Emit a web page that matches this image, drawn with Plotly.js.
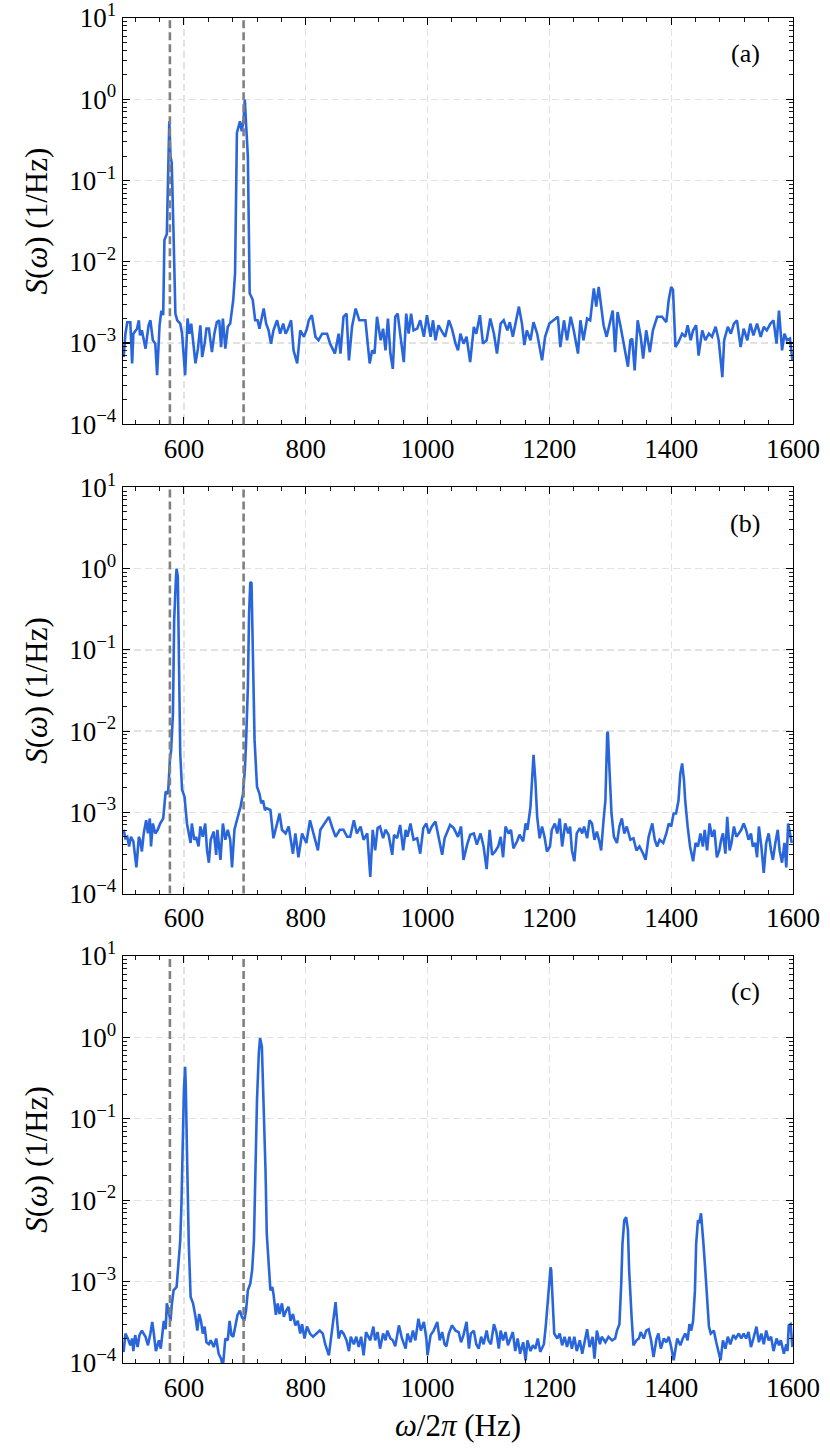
<!DOCTYPE html>
<html>
<head>
<meta charset="utf-8">
<script src="https://cdn.plot.ly/plotly-3.0.1.min.js"></script>
<style>
html,body{margin:0;padding:0;background:#fff;}
#chart{width:830px;height:1453px;}
</style>
</head>
<body>
<div id="chart"></div>
<script>
// ---------- data (frequency in Hz, S in 1/Hz) ----------
const fa = [501,504,507,512,515,517,523,526,528,531,537,542,545,549,553,556,560,563,566,568,572,575,576,578,580,583,586,589,594,597,600,602,606,609,612,616,619,623,627,630,634,637,641,646,650,654,658,661,664,668,672,676,681,684,687,692,695,698,700,702,705,708,713,717,721,724,731,735,739,743,747,753,758,763,767,770,776,780,786,791,797,802,805,810,816,821,827,835,840,848,854,857,862,867,871,876,882,888,895,898,905,909,913,917,923,927,931,935,939,943,947,951,955,961,965,969,973,977,983,988,994,999,1005,1009,1013,1018,1024,1029,1035,1040,1046,1050,1054,1059,1064,1070,1076,1080,1086,1091,1097,1103,1109,1114,1120,1125,1131,1135,1140,1146,1150,1155,1159,1163,1169,1174,1180,1188,1193,1200,1207,1214,1218,1224,1229,1235,1240,1247,1251,1256,1262,1267,1273,1277,1281,1285,1289,1294,1299,1304,1308,1312,1317,1321,1325,1329,1333,1336,1340,1345,1350,1354,1359,1365,1370,1377,1385,1392,1396,1400,1403,1407,1412,1418,1423,1427,1432,1436,1441,1445,1451,1456,1462,1467,1473,1478,1484,1487,1493,1498,1503,1508,1514,1519,1525,1530,1535,1541,1547,1552,1557,1563,1568,1573,1577,1582,1586,1590,1595,1599];
const Sa = [0.67e-3,1.3e-3,1.8e-3,1.8e-3,0.56e-3,1.3e-3,1.5e-3,1.9e-3,1.24e-3,1.43e-3,0.85e-3,1.65e-3,1.9e-3,1.08e-3,0.98e-3,0.40e-3,1.65e-3,2.5e-3,2.2e-3,18.5e-3,22e-3,510e-3,535e-3,198e-3,165e-3,22e-3,2.3e-3,1.9e-3,1.73e-3,1.3e-3,0.61e-3,0.40e-3,2.0e-3,1.3e-3,1.73e-3,0.81e-3,0.56e-3,0.85e-3,1.65e-3,0.67e-3,0.98e-3,1.5e-3,1.5e-3,0.77e-3,1.3e-3,1.8e-3,1.9e-3,0.89e-3,2.0e-3,0.85e-3,1.58e-3,1.73e-3,3.4e-3,7.2e-3,384e-3,535e-3,403e-3,561e-3,990e-3,510e-3,198e-3,4.1e-3,3.4e-3,1.9e-3,1.9e-3,1.5e-3,2.65e-3,1.73e-3,1.43e-3,0.98e-3,1.43e-3,1.9e-3,1.3e-3,1.73e-3,1.3e-3,1.43e-3,1.9e-3,0.81e-3,0.56e-3,1.43e-3,1.19e-3,1.5e-3,1.9e-3,2.2e-3,1.19e-3,1.08e-3,1.3e-3,1.3e-3,0.98e-3,0.74e-3,1.3e-3,0.74e-3,2.1e-3,2.3e-3,0.61e-3,1.58e-3,2.65e-3,1.9e-3,1.9e-3,1.9e-3,0.56e-3,0.81e-3,0.74e-3,2.1e-3,1.08e-3,1.5e-3,0.81e-3,2.0e-3,0.74e-3,0.48e-3,2.1e-3,2.3e-3,1.3e-3,0.58e-3,2.3e-3,1.3e-3,2.3e-3,1.43e-3,1.5e-3,1.9e-3,1.19e-3,2.2e-3,1.19e-3,1.9e-3,1.08e-3,1.65e-3,1.37e-3,1.19e-3,1.9e-3,1.5e-3,0.98e-3,0.81e-3,1.3e-3,0.98e-3,1.19e-3,0.58e-3,1.58e-3,1.3e-3,2.2e-3,0.98e-3,1.08e-3,2.0e-3,1.3e-3,0.74e-3,1.73e-3,1.9e-3,1.43e-3,1.8e-3,1.19e-3,1.9e-3,2.8e-3,1.73e-3,0.94e-3,1.43e-3,1.08e-3,1.8e-3,1.3e-3,0.61e-3,1.19e-3,1.73e-3,1.9e-3,2.1e-3,0.89e-3,1.9e-3,1.08e-3,2.1e-3,1.43e-3,0.74e-3,1.9e-3,1.08e-3,2.0e-3,1.9e-3,4.7e-3,2.8e-3,4.9e-3,2.8e-3,1.65e-3,1.19e-3,1.73e-3,2.5e-3,0.77e-3,2.4e-3,1.58e-3,1.08e-3,0.74e-3,0.51e-3,1.08e-3,1.13e-3,0.46e-3,1.9e-3,1.19e-3,0.64e-3,1.43e-3,0.77e-3,1.43e-3,2.1e-3,2.1e-3,1.8e-3,3.4e-3,4.9e-3,4.5e-3,0.89e-3,1.03e-3,1.3e-3,1.19e-3,1.65e-3,1.08e-3,1.43e-3,1.65e-3,0.70e-3,1.43e-3,1.08e-3,1.3e-3,1.19e-3,1.58e-3,1.08e-3,0.38e-3,1.08e-3,1.58e-3,1.3e-3,1.73e-3,1.9e-3,0.89e-3,1.5e-3,1.08e-3,1.73e-3,1.24e-3,1.73e-3,1.19e-3,1.58e-3,1.43e-3,1.73e-3,1.9e-3,0.98e-3,2.5e-3,0.81e-3,1.3e-3,1.08e-3,1.13e-3,0.61e-3];

const fb = [501,504,507,510,513,517,522,526,528,531,534,538,541,544,546,549,553,557,561,566,570,574,577,579,582,584,587,588,590,592,594,597,601,605,608,611,613,617,620,624,627,631,635,638,641,644,649,653,655,660,664,668,672,676,679,683,687,693,697,700,702,705,707,709,711,713,716,720,724,727,730,733,736,742,747,753,757,761,767,772,779,783,788,794,801,807,813,820,824,831,838,843,849,856,862,868,873,879,884,890,895,901,906,910,914,918,922,927,931,936,942,945,950,955,960,964,967,972,977,983,988,993,998,1002,1007,1013,1017,1024,1028,1033,1037,1043,1050,1055,1059,1065,1070,1076,1081,1087,1092,1097,1102,1106,1111,1116,1120,1124,1128,1133,1137,1141,1147,1151,1157,1161,1164,1169,1172,1174,1177,1180,1184,1188,1192,1196,1201,1204,1209,1213,1217,1221,1226,1231,1234,1237,1241,1245,1250,1254,1257,1262,1266,1270,1274,1278,1282,1285,1289,1292,1295,1296,1299,1302,1306,1311,1315,1319,1323,1327,1333,1338,1343,1348,1354,1358,1363,1369,1373,1377,1381,1387,1392,1396,1400,1404,1408,1412,1415,1418,1421,1423,1427,1431,1436,1440,1444,1448,1452,1455,1459,1463,1467,1471,1475,1479,1482,1485,1489,1492,1496,1499,1503,1507,1511,1515,1519,1523,1527,1531,1534,1538,1541,1544,1548,1552,1556,1560,1564,1567,1571,1575,1578,1582,1586,1589,1592,1595,1598];
const Sb = [0.61e-3,0.48e-3,0.50e-3,0.38e-3,0.50e-3,0.44e-3,0.21e-3,0.50e-3,0.46e-3,0.33e-3,0.55e-3,0.80e-3,0.55e-3,0.84e-3,0.38e-3,0.73e-3,0.55e-3,0.61e-3,0.73e-3,0.84e-3,1.8e-3,1.7e-3,4.4e-3,5.8e-3,16.5e-3,232e-3,790e-3,1000e-3,790e-3,90e-3,5.3e-3,1.9e-3,1.56e-3,0.73e-3,0.55e-3,0.42e-3,0.73e-3,0.46e-3,0.50e-3,0.38e-3,0.67e-3,0.50e-3,0.73e-3,0.34e-3,0.24e-3,0.46e-3,0.58e-3,0.30e-3,0.61e-3,0.26e-3,0.73e-3,0.46e-3,0.61e-3,0.46e-3,0.21e-3,0.61e-3,0.80e-3,1.17e-3,1.7e-3,3.3e-3,7.0e-3,35e-3,280e-3,685e-3,660e-3,109e-3,7.8e-3,2.07e-3,1.7e-3,1.29e-3,1.4e-3,1.07e-3,1.12e-3,1.07e-3,0.48e-3,0.73e-3,0.97e-3,0.61e-3,0.55e-3,0.67e-3,0.31e-3,0.55e-3,0.28e-3,0.55e-3,0.42e-3,0.80e-3,0.55e-3,0.34e-3,0.61e-3,0.73e-3,0.88e-3,0.67e-3,0.50e-3,0.61e-3,0.61e-3,0.50e-3,0.50e-3,0.80e-3,0.55e-3,0.67e-3,0.46e-3,0.55e-3,0.16e-3,0.61e-3,0.34e-3,0.64e-3,0.67e-3,0.48e-3,0.61e-3,0.53e-3,0.30e-3,0.53e-3,0.48e-3,0.70e-3,0.34e-3,0.61e-3,0.50e-3,0.73e-3,0.46e-3,0.48e-3,0.31e-3,0.64e-3,0.73e-3,0.55e-3,0.67e-3,0.77e-3,0.55e-3,0.30e-3,0.48e-3,0.61e-3,0.70e-3,0.64e-3,0.50e-3,0.67e-3,0.26e-3,0.40e-3,0.53e-3,0.55e-3,0.40e-3,0.55e-3,0.38e-3,0.20e-3,0.61e-3,0.30e-3,0.33e-3,0.38e-3,0.50e-3,0.28e-3,0.67e-3,0.55e-3,0.61e-3,0.36e-3,0.44e-3,0.53e-3,0.44e-3,0.73e-3,0.61e-3,1.17e-3,2.5e-3,5.1e-3,2.5e-3,0.88e-3,0.48e-3,0.67e-3,0.50e-3,0.33e-3,0.38e-3,0.61e-3,0.73e-3,0.55e-3,0.84e-3,0.38e-3,0.73e-3,0.55e-3,0.67e-3,0.34e-3,0.25e-3,0.55e-3,0.64e-3,0.55e-3,0.67e-3,0.48e-3,0.80e-3,0.73e-3,0.46e-3,0.58e-3,0.44e-3,0.34e-3,0.80e-3,1.4e-3,9.4e-3,9.8e-3,3.0e-3,0.97e-3,0.50e-3,0.42e-3,0.67e-3,0.84e-3,0.55e-3,0.67e-3,0.46e-3,0.48e-3,0.34e-3,0.38e-3,0.31e-3,0.26e-3,0.50e-3,0.73e-3,0.46e-3,0.38e-3,0.46e-3,0.42e-3,0.55e-3,0.73e-3,0.67e-3,0.97e-3,0.97e-3,1.4e-3,3.0e-3,4.0e-3,2.5e-3,1.4e-3,0.67e-3,0.38e-3,0.25e-3,0.42e-3,0.38e-3,0.55e-3,0.38e-3,0.61e-3,0.34e-3,0.73e-3,0.50e-3,0.61e-3,0.28e-3,0.34e-3,0.46e-3,0.55e-3,0.31e-3,0.88e-3,0.34e-3,0.42e-3,0.67e-3,0.50e-3,0.55e-3,0.61e-3,0.73e-3,0.61e-3,0.46e-3,0.55e-3,0.38e-3,0.42e-3,0.28e-3,0.67e-3,0.38e-3,0.18e-3,0.42e-3,0.55e-3,0.34e-3,0.26e-3,0.42e-3,0.61e-3,0.34e-3,0.24e-3,0.42e-3,0.21e-3,0.73e-3,0.55e-3,0.42e-3];

const fc = [501,504,508,512,515,517,520,524,527,531,537,541,545,548,550,554,559,562,567,570,572,575,578,580,583,588,591,594,596,598,600,602,603,605,608,611,615,619,622,625,628,631,634,637,641,644,649,653,657,661,664,668,672,675,678,681,684,688,692,695,699,702,705,709,712,715,717,720,723,725,728,731,734,736,739,742,745,747,751,754,757,761,764,768,772,775,779,783,787,791,794,798,802,807,812,817,823,828,832,838,842,846,849,851,854,858,862,867,871,874,879,883,887,891,895,899,903,906,911,914,918,922,927,931,934,939,943,947,953,958,964,967,972,976,980,985,989,994,998,1000,1005,1010,1016,1020,1024,1028,1031,1035,1040,1046,1051,1055,1059,1064,1068,1071,1076,1080,1084,1088,1092,1097,1100,1104,1109,1113,1117,1120,1124,1128,1132,1136,1140,1144,1148,1152,1157,1161,1164,1169,1173,1177,1181,1185,1191,1194,1197,1200,1202,1203,1205,1208,1213,1217,1221,1225,1229,1233,1237,1241,1245,1250,1254,1257,1262,1266,1271,1274,1278,1283,1286,1292,1297,1303,1308,1311,1315,1318,1320,1323,1326,1329,1331,1335,1338,1343,1347,1350,1355,1359,1363,1367,1371,1376,1379,1383,1388,1392,1396,1400,1404,1410,1415,1419,1423,1427,1430,1433,1436,1439,1441,1444,1446,1449,1451,1453,1456,1459,1462,1465,1470,1474,1478,1481,1485,1489,1493,1497,1502,1506,1511,1515,1519,1523,1527,1531,1535,1540,1544,1548,1552,1556,1560,1564,1568,1573,1577,1580,1585,1589,1591,1593,1596,1599];
const Sc = [0.136e-3,0.23e-3,0.20e-3,0.165e-3,0.20e-3,0.14e-3,0.22e-3,0.157e-3,0.22e-3,0.25e-3,0.21e-3,0.165e-3,0.23e-3,0.32e-3,0.25e-3,0.14e-3,0.19e-3,0.15e-3,0.33e-3,0.26e-3,0.54e-3,0.44e-3,0.33e-3,0.51e-3,0.78e-3,0.86e-3,1.8e-3,3.2e-3,9.1e-3,60e-3,225e-3,435e-3,270e-3,41e-3,2.9e-3,0.65e-3,0.54e-3,0.37e-3,0.25e-3,0.40e-3,0.33e-3,0.23e-3,0.28e-3,0.18e-3,0.17e-3,0.19e-3,0.157e-3,0.20e-3,0.13e-3,0.113e-3,0.09e-3,0.20e-3,0.19e-3,0.33e-3,0.22e-3,0.21e-3,0.28e-3,0.39e-3,0.44e-3,0.37e-3,0.33e-3,0.44e-3,0.78e-3,0.94e-3,1.38e-3,3.2e-3,16e-3,170e-3,640e-3,980e-3,770e-3,170e-3,23e-3,3.9e-3,1.5e-3,0.78e-3,0.86e-3,0.71e-3,0.39e-3,0.54e-3,0.40e-3,0.54e-3,0.37e-3,0.44e-3,0.49e-3,0.33e-3,0.40e-3,0.29e-3,0.33e-3,0.23e-3,0.30e-3,0.20e-3,0.28e-3,0.23e-3,0.21e-3,0.23e-3,0.25e-3,0.23e-3,0.17e-3,0.124e-3,0.21e-3,0.33e-3,0.56e-3,0.37e-3,0.20e-3,0.25e-3,0.23e-3,0.19e-3,0.14e-3,0.21e-3,0.17e-3,0.21e-3,0.157e-3,0.21e-3,0.124e-3,0.24e-3,0.21e-3,0.19e-3,0.28e-3,0.19e-3,0.24e-3,0.15e-3,0.23e-3,0.19e-3,0.25e-3,0.20e-3,0.19e-3,0.16e-3,0.29e-3,0.20e-3,0.15e-3,0.23e-3,0.18e-3,0.25e-3,0.19e-3,0.35e-3,0.25e-3,0.32e-3,0.20e-3,0.124e-3,0.22e-3,0.25e-3,0.32e-3,0.19e-3,0.24e-3,0.17e-3,0.16e-3,0.23e-3,0.29e-3,0.25e-3,0.24e-3,0.18e-3,0.22e-3,0.32e-3,0.15e-3,0.23e-3,0.25e-3,0.17e-3,0.15e-3,0.21e-3,0.17e-3,0.25e-3,0.19e-3,0.17e-3,0.30e-3,0.24e-3,0.15e-3,0.25e-3,0.19e-3,0.24e-3,0.165e-3,0.20e-3,0.24e-3,0.14e-3,0.20e-3,0.13e-3,0.18e-3,0.108e-3,0.19e-3,0.14e-3,0.165e-3,0.15e-3,0.20e-3,0.137e-3,0.17e-3,0.28e-3,0.54e-3,1.04e-3,1.5e-3,1.38e-3,0.65e-3,0.23e-3,0.20e-3,0.23e-3,0.165e-3,0.21e-3,0.157e-3,0.21e-3,0.15e-3,0.21e-3,0.14e-3,0.19e-3,0.13e-3,0.17e-3,0.26e-3,0.157e-3,0.21e-3,0.113e-3,0.25e-3,0.17e-3,0.21e-3,0.18e-3,0.21e-3,0.19e-3,0.20e-3,0.25e-3,0.30e-3,0.95e-3,2.9e-3,5.7e-3,6.2e-3,4.3e-3,1.38e-3,0.37e-3,0.165e-3,0.19e-3,0.20e-3,0.24e-3,0.20e-3,0.25e-3,0.26e-3,0.19e-3,0.118e-3,0.20e-3,0.23e-3,0.15e-3,0.20e-3,0.18e-3,0.21e-3,0.157e-3,0.108e-3,0.20e-3,0.165e-3,0.20e-3,0.23e-3,0.19e-3,0.30e-3,0.25e-3,0.33e-3,0.78e-3,2.9e-3,5.7e-3,5.2e-3,6.9e-3,4.7e-3,2.9e-3,1.38e-3,0.54e-3,0.28e-3,0.23e-3,0.25e-3,0.18e-3,0.14e-3,0.108e-3,0.19e-3,0.15e-3,0.21e-3,0.17e-3,0.22e-3,0.20e-3,0.23e-3,0.20e-3,0.23e-3,0.20e-3,0.24e-3,0.157e-3,0.20e-3,0.28e-3,0.18e-3,0.23e-3,0.17e-3,0.25e-3,0.19e-3,0.21e-3,0.14e-3,0.20e-3,0.165e-3,0.19e-3,0.13e-3,0.17e-3,0.14e-3,0.29e-3,0.30e-3,0.157e-3];

const markerFreqs = [577, 698];          // grey dashed reference lines
const panelLabels = ['(a)', '(b)', '(c)'];
const xTickVals = [600, 800, 1000, 1200, 1400, 1600];
const yTickVals = [1e-4, 1e-3, 1e-2, 1e-1, 1e0, 1e1];
const yTickText = ['10<sup>−4</sup>','10<sup>−3</sup>','10<sup>−2</sup>','10<sup>−1</sup>','10<sup>0</sup>','10<sup>1</sup>'];

// ---------- styling ----------
const FONT = '"Liberation Serif", "DejaVu Serif", serif';
const BLUE = '#2a66db';
const minorY = [];
for (let e = -4; e < 1; e++) for (let m = 2; m <= 9; m++) minorY.push(m * Math.pow(10, e));

const domains = [[0.698, 1.0], [0.349, 0.651], [0.0, 0.3026]];
const series = [[fa, Sa], [fb, Sb], [fc, Sc]];

const traces = series.map((s, i) => ({
  x: s[0], y: s[1], type: 'scatter', mode: 'lines',
  line: {color: BLUE, width: 2.6},
  xaxis: i === 0 ? 'x' : 'x' + (i + 1),
  yaxis: i === 0 ? 'y' : 'y' + (i + 1),
  hoverinfo: 'skip', showlegend: false
}));

const layout = {
  width: 830, height: 1453,
  margin: {l: 123, r: 37, t: 18, b: 90},
  paper_bgcolor: '#fff', plot_bgcolor: '#fff',
  font: {family: FONT, color: '#000', size: 27},
  showlegend: false,
  shapes: [], annotations: []
};

for (let i = 0; i < 3; i++) {
  const xk = i === 0 ? 'xaxis' : 'xaxis' + (i + 1);
  const yk = i === 0 ? 'yaxis' : 'yaxis' + (i + 1);
  const xr = i === 0 ? 'x' : 'x' + (i + 1);
  const yr = i === 0 ? 'y' : 'y' + (i + 1);
  layout[xk] = {
    anchor: yr, domain: [0, 1], range: [500, 1600],
    tickmode: 'array', tickvals: xTickVals, ticktext: xTickVals.map(String),
    ticks: 'inside', ticklen: 7, tickwidth: 1.1, tickcolor: '#000',
    showline: true, linecolor: '#000', linewidth: 1.3, mirror: 'allticks',
    showgrid: true, gridcolor: '#e2e2e2', gridwidth: 1.3, griddash: '7px,4px',
    zeroline: false, ticklabeloverflow: 'allow',
    minor: {ticks: 'inside', ticklen: 4, tickwidth: 0.9, tickcolor: '#000', dtick: 40, tick0: 600, showgrid: false},
    tickfont: {family: FONT, size: 27, color: '#000'},
    automargin: false, fixedrange: true
  };
  if (i === 2) {
    layout[xk].title = {text: '<i>ω</i>/2<i>π</i> (Hz)', font: {family: FONT, size: 31}, standoff: 12};
  }
  layout[yk] = {
    anchor: xr, domain: domains[i], type: 'log', range: [-4, 1],
    tickmode: 'array', tickvals: yTickVals, ticktext: yTickText,
    ticks: 'inside', ticklen: 7, tickwidth: 1.1, tickcolor: '#000',
    showline: true, linecolor: '#000', linewidth: 1.3, mirror: 'allticks',
    showgrid: true, gridcolor: '#e2e2e2', gridwidth: 1.3, griddash: '7px,4px',
    zeroline: false, ticklabeloverflow: 'allow',
    minor: {ticks: 'inside', ticklen: 4, tickwidth: 0.9, tickcolor: '#000', tickvals: minorY, showgrid: false},
    tickfont: {family: FONT, size: 27, color: '#000'},
    title: {text: '<i>S</i>(<i>ω</i>) (1/Hz)', font: {family: FONT, size: 31}, standoff: 12},
    automargin: false, fixedrange: true
  };
  markerFreqs.forEach(f => layout.shapes.push({
    type: 'line', xref: xr, yref: yr + ' domain', x0: f, x1: f, y0: 0, y1: 1,
    line: {color: '#808080', width: 2.6, dash: '8px,4px'}, layer: 'above'
  }));
  layout.annotations.push({
    text: panelLabels[i], xref: xr + ' domain', yref: yr + ' domain',
    x: 0.929, y: 0.912, xanchor: 'center', yanchor: 'middle', showarrow: false,
    font: {family: FONT, size: 26, color: '#000'}
  });
}

Plotly.newPlot('chart', traces, layout, {staticPlot: true, displayModeBar: false});
</script>
</body>
</html>
